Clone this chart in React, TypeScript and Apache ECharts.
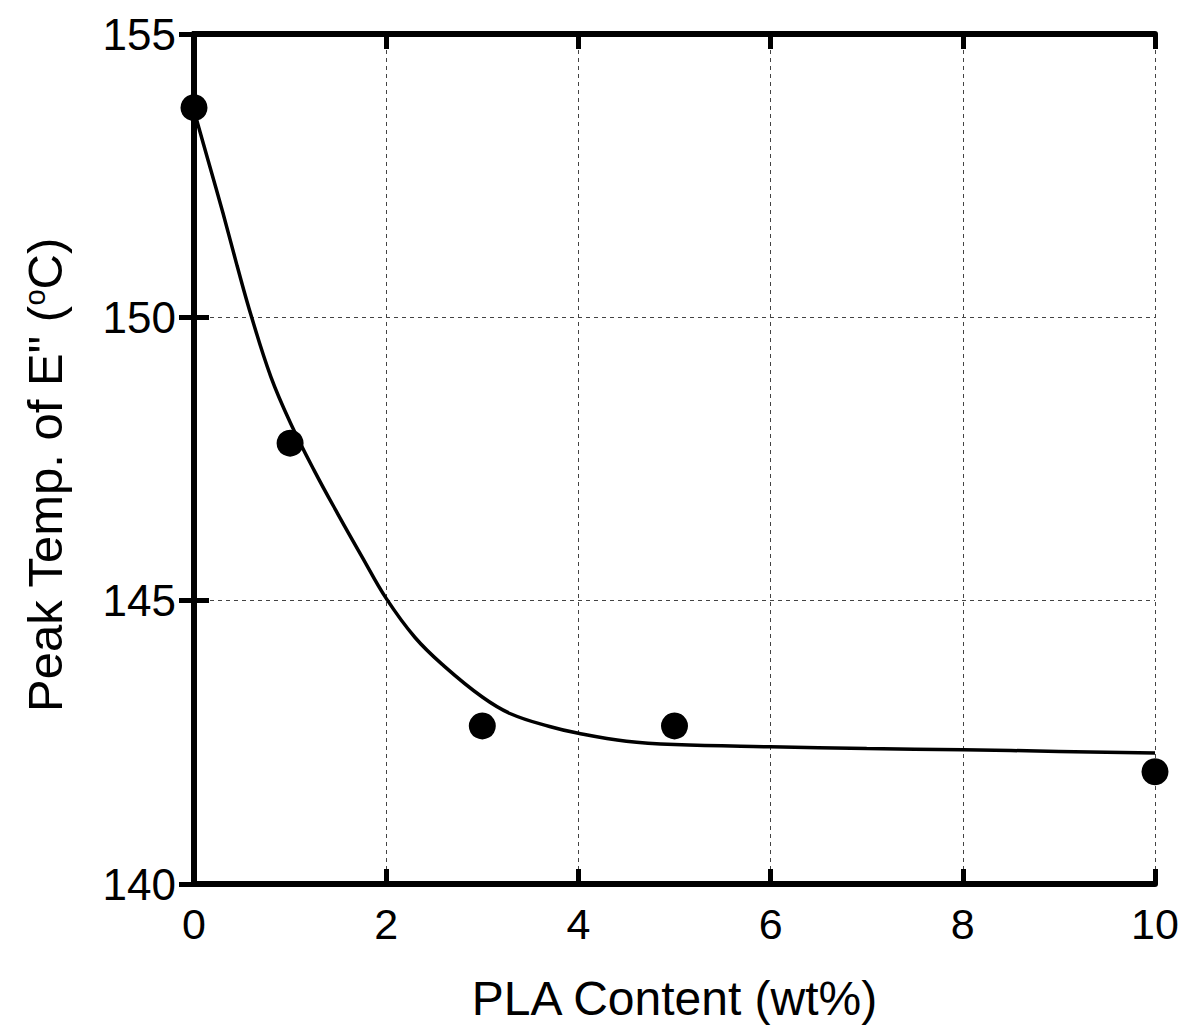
import React, { useEffect, useRef } from "react";
import * as echarts from "echarts";

const pointX = [0, 1, 3, 5, 10];
const pointY = [153.7, 147.78, 142.79, 142.79, 141.98];

const curveX = [0, 0.15, 0.3, 0.45, 0.6, 0.8, 1.0, 1.25, 1.5, 1.75, 2.0, 2.3, 2.6, 3.0, 3.3, 3.7, 4.0, 4.5, 5.0, 6.0, 7.0, 8.0, 9.0, 10.0];
const curveY = [153.65, 152.75, 151.85, 150.9, 150.0, 148.95, 148.15, 147.3, 146.52, 145.77, 145.04, 144.35, 143.85, 143.3, 143.0, 142.78, 142.66, 142.52, 142.46, 142.42, 142.39, 142.37, 142.34, 142.31];

const xTicks = { min: 0, max: 10, interval: 2 };
const yTicks = { min: 140, max: 155, interval: 5 };

const xTitle = "PLA Content (wt%)";
const yTitleParts = ['Peak Temp. of E" (', "o", "C)"];

export default function App() {
  const ref = useRef<HTMLDivElement>(null);
  useEffect(() => {
    document.body.style.margin = "0";
    const chart = echarts.init(ref.current!, null, { renderer: "svg" });
    const font = "'Liberation Sans', Arial, sans-serif";
    const axisLine = { show: true, lineStyle: { color: "#000", width: 6 } };
    const axisTick = { show: true, inside: true, length: 15, lineStyle: { color: "#000", width: 5 } };
    const splitLine = { show: true, lineStyle: { color: "#444", width: 1, type: [4, 4] as any } };
    chart.setOption({
      animation: false,
      backgroundColor: "#fff",
      grid: { left: 194, top: 34, right: 32, bottom: 141, containLabel: false },
      xAxis: [
        {
          type: "value",
          position: "bottom",
          ...xTicks,
          axisLine,
          axisTick,
          splitLine,
          axisLabel: { color: "#000", fontSize: 43, fontFamily: font, margin: 18 },
          name: xTitle,
          nameLocation: "middle",
          nameGap: 90,
          nameTextStyle: { color: "#000", fontSize: 48, fontFamily: font },
        },
        {
          type: "value",
          position: "top",
          ...xTicks,
          axisLine,
          axisTick,
          splitLine: { show: false },
          axisLabel: { show: false },
        },
      ],
      yAxis: [
        {
          type: "value",
          position: "left",
          ...yTicks,
          axisLine,
          axisTick,
          splitLine,
          axisLabel: { color: "#000", fontSize: 44, fontFamily: font, margin: 18 },
        },
        {
          type: "value",
          position: "right",
          ...yTicks,
          axisLine,
          axisTick,
          splitLine: { show: false },
          axisLabel: { show: false },
        },
      ],
      graphic: [
        {
          type: "text",
          x: 45,
          y: 475,
          rotation: Math.PI / 2,
          style: {
            text: `{a|${yTitleParts[0]}}{s|${yTitleParts[1]}}{a|${yTitleParts[2]}}`,
            align: "center",
            verticalAlign: "middle",
            rich: {
              a: { fontSize: 49, fontFamily: font, fill: "#000" },
              s: { fontSize: 29, fontFamily: font, fill: "#000", verticalAlign: "top", padding: [0, 0, 20, 0] },
            },
          },
        },
      ],
      series: [
        {
          type: "line",
          data: curveX.map((x, i) => [x, curveY[i]]),
          smooth: 0.4,
          showSymbol: false,
          lineStyle: { color: "#000", width: 3.5 },
          z: 3,
        },
        {
          type: "scatter",
          data: pointX.map((x, i) => [x, pointY[i]]),
          symbol: "circle",
          symbolSize: 27,
          itemStyle: { color: "#000", opacity: 1 },
          clip: false,
          z: 5,
        },
      ],
    });
    return () => chart.dispose();
  }, []);
  return <div ref={ref} style={{ width: 1187, height: 1027 }} />;
}
